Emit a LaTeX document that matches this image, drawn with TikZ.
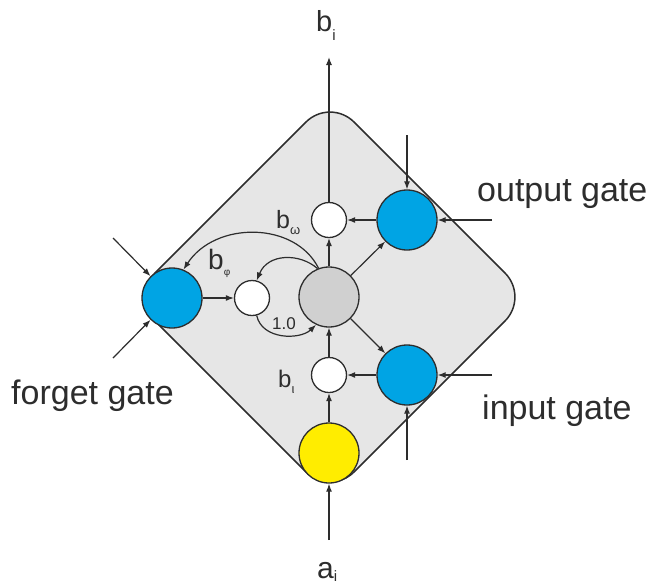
\documentclass[tikz,border=0pt]{standalone}
\usepackage{fontspec}
\setmainfont{Liberation Sans}
\usetikzlibrary{arrows.meta}
\definecolor{gateblue}{RGB}{0,164,228}
\definecolor{cellgray}{RGB}{208,208,208}
\definecolor{bodygray}{RGB}{230,230,230}
\definecolor{inkc}{RGB}{45,45,45}
\definecolor{yel}{RGB}{255,237,0}
\begin{document}
\begin{tikzpicture}[x=1pt,y=-1pt,
  ink/.style={draw=inkc, line width=1.2pt},
  arr/.style={ink, -{Latex[length=8pt,width=6pt]}},
  body/.style={draw=inkc, line width=1.5pt, fill=bodygray, rounded corners=34pt},
  bigc/.style={circle, draw=inkc, line width=1.3pt, minimum size=60pt, inner sep=0pt},
  gate/.style={bigc, fill=gateblue},
  smallc/.style={circle, draw=inkc, line width=1.3pt, fill=white, minimum size=35pt, inner sep=0pt},
  lbl/.style={inner sep=0pt, anchor=base west, text=inkc},
  gatetxt/.style={lbl, font=\fontsize{34}{34}\selectfont}
]
\useasboundingbox (0,0) rectangle (651,587);
% body
\draw[body] (230.5,396.5) -- (131,297) -- (330,98) -- (529,297) -- (330,496) -- cycle;
% nodes
\node[gate] (fg) at (172,298) {};
\node[smallc] (bphi) at (252,298) {};
\node[bigc, fill=cellgray] (cell) at (329,297) {};
\node[smallc] (bom) at (329,220) {};
\node[smallc] (biota) at (329,375) {};
\node[bigc, fill=yel] (inp) at (329,453) {};
\node[gate] (og) at (407,220) {};
\node[gate] (ig) at (407,375) {};
% free ends
\coordinate (topc) at (329,57);
\coordinate (botc) at (329,540);
\coordinate (ogT) at (407,135);
\coordinate (ogR) at (492,220);
\coordinate (igR) at (492,375);
\coordinate (igB) at (407,460);
\coordinate (fgUL) at (113,238);
\coordinate (fgLL) at (113,358);
% connectors
\draw[arr] (bom) -- (topc);
\draw[arr] (botc) -- (inp);
\draw[arr] (inp) -- (biota);
\draw[arr] (biota) -- (cell);
\draw[arr] (cell) -- (bom);
\draw[arr] (cell) -- (og);
\draw[arr] (cell) -- (ig);
\draw[arr] (og) -- (bom);
\draw[arr] (ig) -- (biota);
\draw[arr] (fg) -- (bphi);
\draw[arr] (ogT) -- (og);
\draw[arr] (ogR) -- (og);
\draw[arr] (igR) -- (ig);
\draw[arr] (igB) -- (ig);
\draw[arr] (fgUL) -- (fg);
\draw[arr] (fgLL) -- (fg);
\draw[arr] (cell.110) .. controls (295,221) and (215,221) .. (fg.68);
\draw[arr] (cell.112) .. controls (300,253) and (268,253) .. (bphi.75);
\draw[arr] (bphi.285) .. controls (262,340) and (300,340) .. (cell.245);
% labels
\node[lbl, font=\fontsize{29}{29}\selectfont] (lbi) at (316,31) {b\raisebox{-9pt}{\fontsize{15}{15}\selectfont i}};
\node[lbl, font=\fontsize{30}{30}\selectfont] (lai) at (317,578) {a\raisebox{-3pt}{\fontsize{15}{15}\selectfont i}};
\node[lbl, font=\fontsize{25}{25}\selectfont] (lbom) at (276,228) {b\raisebox{-6pt}{\fontsize{13}{13}\selectfont ω}};
\node[lbl, font=\fontsize{28}{28}\selectfont] (lbphi) at (208,269) {b\raisebox{-6pt}{\fontsize{10}{10}\selectfont φ}};
\node[lbl, font=\fontsize{24}{24}\selectfont] (lbiota) at (278,387) {b\raisebox{-6pt}{\fontsize{13}{13}\selectfont ι}};
\node[lbl, font=\fontsize{17}{17}\selectfont] (lone) at (272,329) {1.0};
\node[gatetxt] (tog) at (477,201) {output gate};
\node[gatetxt] (tig) at (482,419) {input gate};
\node[gatetxt] (tfg) at (11,404) {forget gate};
\end{tikzpicture}
\end{document}
